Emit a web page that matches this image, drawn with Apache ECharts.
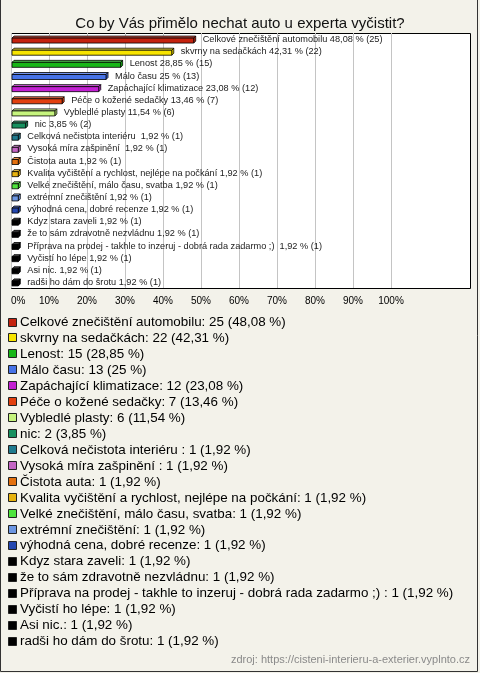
<!DOCTYPE html>
<html>
<head>
<meta charset="utf-8">
<script src="https://cdn.jsdelivr.net/npm/echarts@6/dist/echarts.min.js"></script>
<style>
html,body{margin:0;padding:0;background:#f3f2ea;}
#c{width:480px;height:673px;}
</style>
</head>
<body>
<div id="c"></div>
<script>
const titleText = 'Co by Vás přimělo nechat auto u experta vyčistit?';
const categories = [
  'Celkové znečištění automobilu',
  'skvrny na sedačkách',
  'Lenost',
  'Málo času',
  'Zapáchající klimatizace',
  'Péče o kožené sedačky',
  'Vybledlé plasty',
  'nic',
  'Celková nečistota interiéru ',
  'Vysoká míra zašpinění ',
  'Čistota auta',
  'Kvalita vyčištění a rychlost, nejlépe na počkání',
  'Velké znečištění, málo času, svatba',
  'extrémní znečištění',
  'výhodná cena, dobré recenze',
  'Kdyz stara zaveli',
  'že to sám zdravotně nezvládnu',
  'Příprava na prodej - takhle to inzeruj - dobrá rada zadarmo ;) ',
  'Vyčistí ho lépe',
  'Asi nic.',
  'radši ho dám do šrotu'
];
const counts = [25, 22, 15, 13, 12, 7, 6, 2, 1, 1, 1, 1, 1, 1, 1, 1, 1, 1, 1, 1, 1];
const percents = [48.08, 42.31, 28.85, 25, 23.08, 13.46, 11.54, 3.85, 1.92, 1.92, 1.92, 1.92, 1.92, 1.92, 1.92, 1.92, 1.92, 1.92, 1.92, 1.92, 1.92];
const colors = ['#c4230f', '#f7e400', '#17b617', '#4672e6', '#c21fd2', '#e2400f', '#c6f47e', '#17905f', '#1f7a8e', '#c465c4', '#e3700f', '#e6b20f', '#4fe43d', '#6c96e2', '#2447b0', '#000000', '#000000', '#000000', '#000000', '#000000', '#000000'];
const sourceText = 'zdroj: https://cisteni-interieru-a-exterier.vyplnto.cz';

function fmt(v) { return String(v).replace('.', ','); }

const FONT = '"Liberation Sans", Arial, sans-serif';
const chart = echarts.init(document.getElementById('c'));

function lighten(hex, f) {
  const n = parseInt(hex.slice(1), 16);
  let r = (n >> 16) & 255, g = (n >> 8) & 255, b = n & 255;
  r = Math.round(r + (255 - r) * f); g = Math.round(g + (255 - g) * f); b = Math.round(b + (255 - b) * f);
  return 'rgb(' + r + ',' + g + ',' + b + ')';
}

const legendChildren = [];
categories.forEach((name, i) => {
  const y = 322.5 + i * 15.95;
  legendChildren.push({
    type: 'rect', shape: { x: 8.5, y: Math.round(y) - 4.5, width: 8, height: 8 },
    style: { fill: colors[i], stroke: '#222', lineWidth: 1 }
  });
  legendChildren.push({
    type: 'text', x: 20, y: y,
    style: { text: name + ': ' + counts[i] + ' (' + fmt(percents[i]) + ' %)', font: '13.4px ' + FONT, fill: '#000', verticalAlign: 'middle' }
  });
});

const option = {
  backgroundColor: '#f3f2ea',
  animation: false,
  title: {
    text: titleText, left: 'center', top: 11,
    textStyle: { fontFamily: FONT, fontSize: 15, fontWeight: 'normal', color: '#111' }
  },
  grid: { left: 11, right: 89, top: 33, bottom: 385, containLabel: false },
  xAxis: {
    type: 'value', min: 0, max: 100, interval: 10,
    axisLine: { show: false }, axisTick: { show: false },
    splitLine: { show: true, lineStyle: { color: '#c4c4c4', width: 1 } },
    axisLabel: { formatter: '{value}%', fontFamily: FONT, fontSize: 10, color: '#000', margin: 8, alignMinLabel: 'left' }
  },
  yAxis: {
    type: 'category', data: categories, inverse: true,
    axisLine: { show: false }, axisTick: { show: false }, axisLabel: { show: false }, splitLine: { show: false }
  },
  graphic: [
    { type: 'rect', z: -10, shape: { x: 11.5, y: 33.5, width: 459, height: 255 }, style: { fill: '#ffffff', stroke: '#000', lineWidth: 1 } },
    { type: 'rect', z: 100, shape: { x: 0.5, y: -2, width: 477, height: 673.5 }, style: { fill: 'none', stroke: '#333', lineWidth: 1 } },
    { type: 'group', children: legendChildren },
    { type: 'text', right: 10, top: 654, style: { text: sourceText, font: '11px ' + FONT, fill: '#8a8a8a' } }
  ],
  series: [{
    type: 'custom',
    clip: false,
    z: 5,
    data: percents.map((v, i) => [v, i]),
    encode: { x: 0, y: 1 },
    renderItem: function (params, api) {
      const i = api.value(1);
      const v = api.value(0);
      const end = api.coord([v, i]);
      const start = api.coord([0, i]);
      const x0 = start[0] + 1, x1 = end[0];
      const yc = end[1] + 1.5;
      const h = 5, d = 2;
      const yT = yc - h / 2, yB = yc + h / 2;
      const col = colors[i];
      return {
        type: 'group',
        children: [
          { type: 'polygon', shape: { points: [[x0, yT], [x0 + d, yT - d], [x1 + d, yT - d], [x1, yT]] }, style: { fill: lighten(col, 0.25), stroke: '#000', lineWidth: 0.8 } },
          { type: 'polygon', shape: { points: [[x1, yT], [x1 + d, yT - d], [x1 + d, yB - d], [x1, yB]] }, style: { fill: col, stroke: '#000', lineWidth: 0.8 } },
          { type: 'rect', shape: { x: x0, y: yT, width: x1 - x0, height: h }, style: { fill: col, stroke: '#000', lineWidth: 0.8 } },
          { type: 'text', x: x1 + d + 7, y: yc - 1, style: { text: categories[i] + ' ' + fmt(percents[i]) + ' % (' + counts[i] + ')', font: '9.2px ' + FONT, fill: '#222', verticalAlign: 'middle' } }
        ]
      };
    }
  }]
};
chart.setOption(option);
</script>
</body>
</html>
